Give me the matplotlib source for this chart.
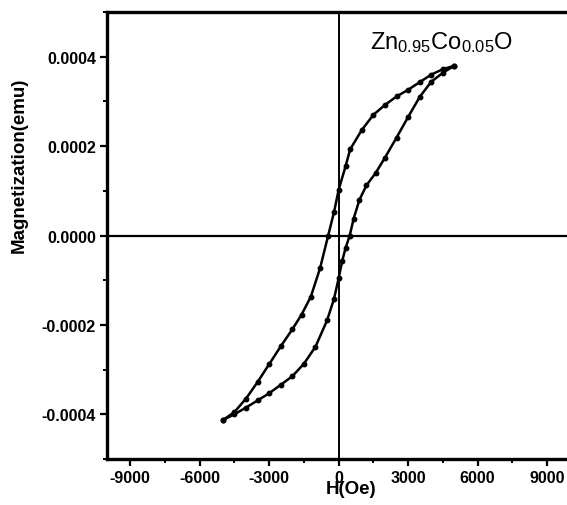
import numpy as np
import matplotlib
matplotlib.use("Agg")
import matplotlib.pyplot as plt
from matplotlib.ticker import MultipleLocator

# M-H loop
# descending branch (+H -> -H)
hDown = [5000, 4500, 4000, 3500, 3000, 2500, 2000, 1500, 1000, 500, 300, 0,
         -200, -450, -800, -1200, -1600, -2000, -2500, -3000, -3500, -4000,
         -4500, -5000]
mDown = [0.000380, 0.000372, 0.000360, 0.000343, 0.000326, 0.000311, 0.000292,
         0.000270, 0.000236, 0.000193, 0.000155, 0.000102, 0.000052, 0.0,
         -0.000073, -0.000137, -0.000177, -0.000210, -0.000248, -0.000288,
         -0.000328, -0.000365, -0.000395, -0.000413]
# ascending branch (-H -> +H)
hUp = [-5000, -4500, -4000, -3500, -3000, -2500, -2000, -1500, -1000, -500,
       -200, 0, 150, 300, 480, 650, 900, 1200, 1600, 2000, 2500, 3000, 3500,
       4000, 4500, 5000]
mUp = [-0.000413, -0.000400, -0.000385, -0.000369, -0.000353, -0.000334,
       -0.000315, -0.000287, -0.000249, -0.000190, -0.000142, -0.000096,
       -0.000058, -0.000028, 0.0, 0.000038, 0.000080, 0.000112, 0.000140,
       0.000174, 0.000219, 0.000265, 0.000310, 0.000344, 0.000364, 0.000380]

xTicks = [-9000, -6000, -3000, 0, 3000, 6000, 9000]
yTicks = [-0.0004, -0.0002, 0.0, 0.0002, 0.0004]
yTickLabels = ["-0.0004", "-0.0002", "0.0000", "0.0002", "0.0004"]

plt.rcParams['font.family'] = ['Liberation Sans', 'DejaVu Sans']
plt.rcParams['mathtext.fontset'] = 'custom'
plt.rcParams['mathtext.rm'] = 'Liberation Sans'

fig = plt.figure(figsize=(5.67, 5.06), dpi=100)
ax = fig.add_axes([0.1887, 0.0909, 0.8113, 0.8834])

# zero lines
ax.axhline(0, color='k', lw=1.6, zorder=1)
ax.axvline(0, color='k', lw=1.4, zorder=1)

# the loop
ax.plot(hDown, mDown, color='k', lw=1.8, marker='o', ms=3.2, zorder=3)
ax.plot(hUp, mUp, color='k', lw=1.8, marker='o', ms=3.2, zorder=3)

ax.set_xlim(-10000, 9860)
ax.set_ylim(-0.0005, 0.0005)

ax.set_xticks(xTicks)
ax.set_xticklabels([str(t) for t in xTicks], fontsize=11.5, fontweight='bold')
ax.set_yticks(yTicks)
ax.set_yticklabels(yTickLabels, fontsize=11.5, fontweight='bold')
ax.xaxis.set_minor_locator(MultipleLocator(1500))
ax.yaxis.set_minor_locator(MultipleLocator(0.0001))
ax.tick_params(which='major', direction='out', length=5, width=1.6, pad=3)
ax.tick_params(which='minor', direction='out', length=3, width=1.4)

for side in ['left', 'bottom', 'top']:
  ax.spines[side].set_linewidth(2.4)
ax.spines['right'].set_visible(False)

ax.set_xlabel('H(Oe)', fontsize=13.5, fontweight='bold')
ax.xaxis.set_label_coords(0.53, -0.046)
ax.set_ylabel('Magnetization(emu)', fontsize=13.5, fontweight='bold')
ax.yaxis.set_label_coords(-0.172, 0.66)

ax.text(1350, 0.000405, r'$\mathregular{Zn_{0.95}Co_{0.05}O}$', fontsize=17,
        ha='left', va='bottom')

fig.savefig('out.png', dpi=100)
